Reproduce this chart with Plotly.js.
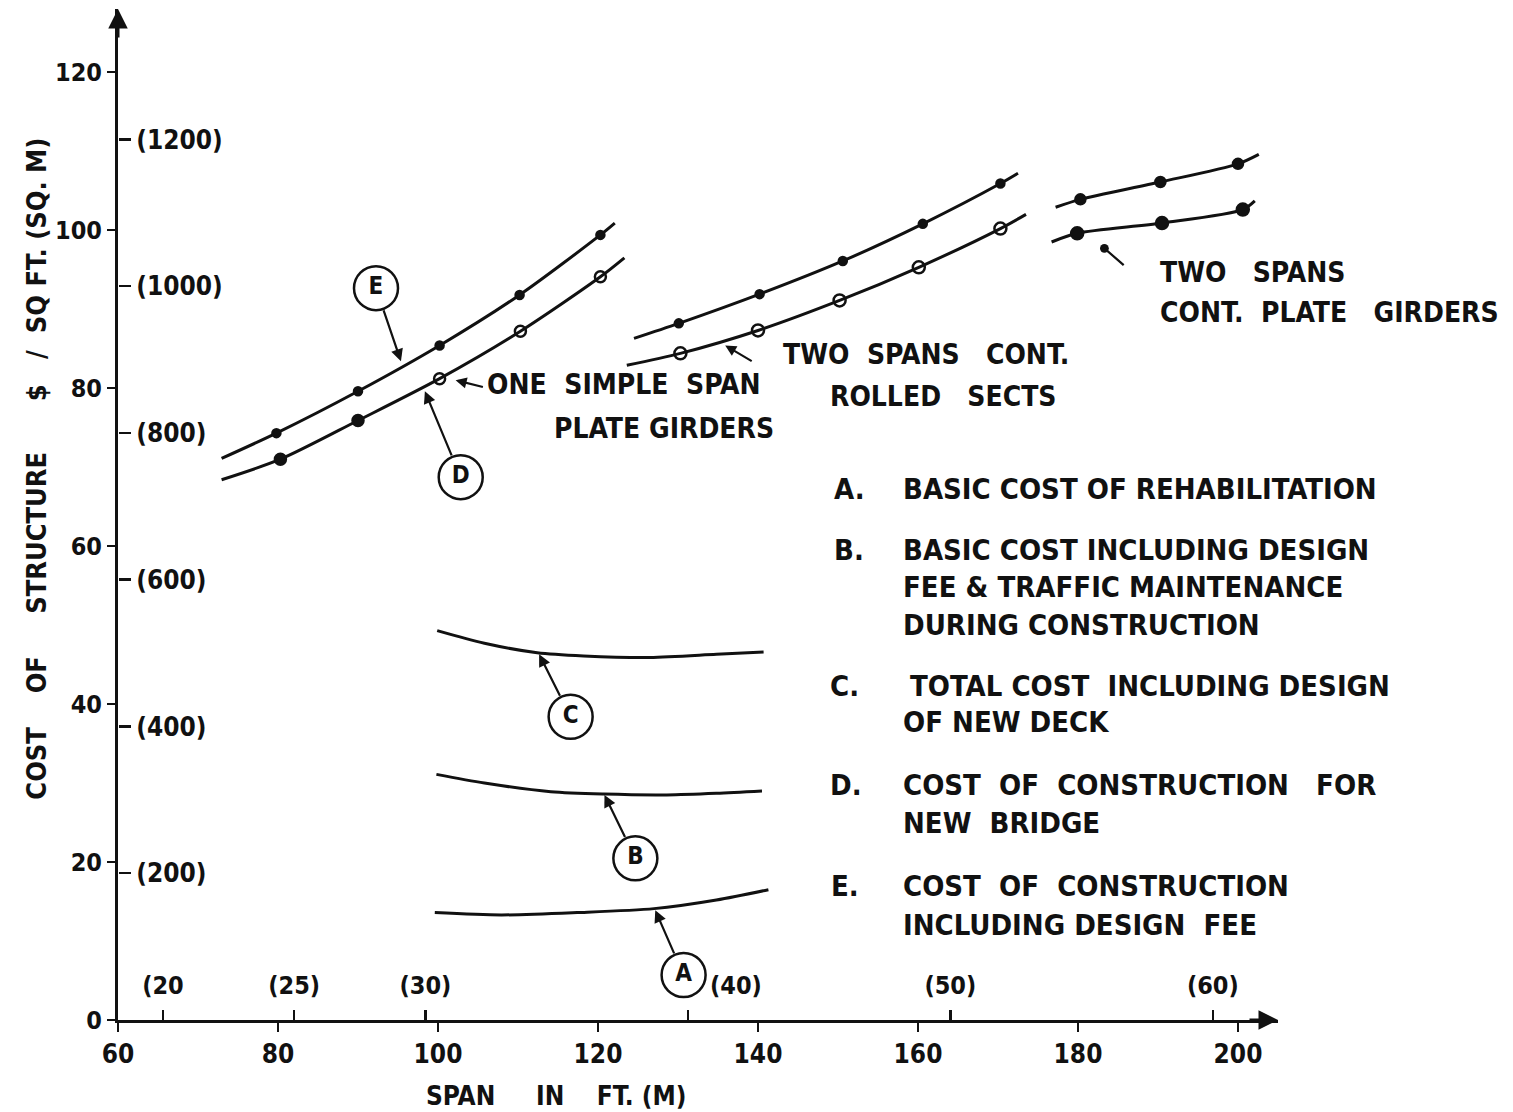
<!DOCTYPE html>
<html>
<head>
<meta charset="utf-8">
<script src="https://cdn.plot.ly/plotly-3.0.1.min.js"></script>
<style>
  html, body { margin: 0; padding: 0; background: #fff; }
  #chart { width: 1513px; height: 1112px; }
</style>
</head>
<body>
<div id="chart"></div>
<script>
// Span in ft, cost in $ per sq ft.  Each curve lists its two free ends
// plus the plotted points in between.

// One simple span, plate girders
const simpleE_x = [72.95, 79.8, 90.0, 100.2, 110.2, 120.3, 122.1];
const simpleE_y = [71.1, 74.3, 79.6, 85.4, 91.8, 99.4, 100.9];
const simpleD_x = [72.95, 80.3, 90.0, 100.2, 110.3, 120.3, 123.3];
const simpleD_y = [68.4, 71.0, 75.9, 81.2, 87.2, 94.1, 96.5];

// Two spans continuous, rolled sections
const rolledE_x = [124.5, 130.1, 140.2, 150.6, 160.6, 170.3, 172.5];
const rolledE_y = [86.3, 88.2, 91.9, 96.1, 100.8, 105.9, 107.2];
const rolledD_x = [123.6, 130.3, 140.0, 150.2, 160.1, 170.3, 173.5];
const rolledD_y = [82.9, 84.4, 87.3, 91.1, 95.3, 100.2, 102.0];

// Two spans continuous, plate girders
const plateE_x = [177.2, 180.3, 190.3, 200.0, 202.6];
const plateE_y = [102.9, 103.9, 106.1, 108.4, 109.6];
const plateD_x = [176.7, 179.9, 190.5, 200.6, 202.1];
const plateD_y = [98.5, 99.6, 100.9, 102.6, 103.7];

// Rehabilitation curves A, B, C
const curveC_x = [99.9, 105.8, 112.4, 118.2, 126.5, 134.8, 140.7];
const curveC_y = [49.3, 47.7, 46.5, 46.1, 45.9, 46.3, 46.6];
const curveB_x = [99.8, 105.8, 114.1, 120.7, 128.6, 134.8, 140.5];
const curveB_y = [31.1, 30.0, 28.9, 28.6, 28.5, 28.7, 29.0];
const curveA_x = [99.6, 107.9, 117.4, 127.0, 134.8, 141.3];
const curveA_y = [13.6, 13.3, 13.6, 14.1, 15.2, 16.5];

// Circled curve keys and where their leaders touch the curves
const keyLetters = ['E', 'D', 'C', 'B', 'A'];
const keyX = [92.25, 102.84, 116.58, 124.67, 130.7];
const keyY = [92.66, 68.73, 38.39, 20.47, 5.7];
const keyTipX = [95.37, 98.36, 112.64, 120.81, 127.16];
const keyTipY = [83.4, 79.6, 46.3, 28.5, 13.9];

// Axis ticks
const ftTicks = [60, 80, 100, 120, 140, 160, 180, 200];
const costTicks = [0, 20, 40, 60, 80, 100, 120];
const metreTicks = [20, 25, 30, 40, 50, 60];
const metreLabels = ['(20', '(25)', '(30)', '(40)', '(50)', '(60)'];
const sqmTicks = [200, 400, 600, 800, 1000, 1200];
const sqmLabels = ['(200)', '(400)', '(600)', '(800)', '(1000)', '(1200)'];
const FT_PER_M = 3.28084;
const SQFT_PER_SQM = 10.7639;
// the (40) label is lettered to the right of its tick, clear of key A
const shiftedMetreTick = 40;

// Structure-type labels and their pointers
const typeLabels = [
  { lines: ['ONE\u00a0\u00a0SIMPLE\u00a0\u00a0SPAN', 'PLATE GIRDERS'],
    x: [105.9, 114.3], y: [80.4, 74.9], tip: [102.2, 81.0], tail: [105.8, 80.1], head: 2 },
  { lines: ['TWO\u00a0\u00a0SPANS\u00a0\u00a0\u00a0CONT.', 'ROLLED\u00a0\u00a0\u00a0SECTS'],
    x: [142.9, 148.7], y: [84.2, 78.9], tip: [135.9, 85.4], tail: [139.4, 83.3], head: 2 },
  { lines: ['TWO\u00a0\u00a0\u00a0SPANS', 'CONT.\u00a0\u00a0PLATE\u00a0\u00a0\u00a0GIRDERS'],
    x: [190.0, 190.0], y: [94.6, 89.6], tip: [183.3, 97.7], tail: [185.9, 95.4], head: 6 }
];

// Key to the curves
const legendKeys = ['A.', 'B.', 'C.', 'D.', 'E.'];
const legendLines = [
  ['BASIC COST OF REHABILITATION'],
  ['BASIC COST INCLUDING DESIGN', 'FEE & TRAFFIC MAINTENANCE', 'DURING CONSTRUCTION'],
  ['TOTAL\u00a0COST\u00a0\u00a0INCLUDING\u00a0DESIGN', 'OF NEW DECK'],
  ['COST\u00a0\u00a0OF\u00a0\u00a0CONSTRUCTION\u00a0\u00a0\u00a0FOR', 'NEW\u00a0\u00a0BRIDGE'],
  ['COST\u00a0\u00a0OF\u00a0\u00a0CONSTRUCTION', 'INCLUDING DESIGN\u00a0\u00a0FEE']
];
const legendKeyX = [149.2, 149.3, 148.8, 148.8, 148.9];
const legendTextX = [[157.9], [157.9, 157.9, 157.9], [158.8, 157.9], [157.9, 157.9], [157.9, 157.9]];
const legendY = [[67.2], [59.5, 54.8, 50.0], [42.3, 37.7], [29.8, 24.9], [17.0, 12.0]];

const INK = '#111';
const FONT = "'DejaVu Sans Condensed', 'Liberation Sans Narrow', 'DejaVu Sans', sans-serif";

function line(xs, ys) {
  return { x: xs, y: ys, mode: 'lines', type: 'scatter', hoverinfo: 'skip',
    line: { color: INK, width: 3, shape: 'spline', smoothing: 0.8 } };
}
function points(xs, ys, sym, size) {
  return { x: xs.slice(1, -1), y: ys.slice(1, -1), mode: 'markers', type: 'scatter', hoverinfo: 'skip',
    marker: { color: INK, symbol: sym, size: size, line: { color: INK, width: 2.5 } } };
}

const traces = [
  line(simpleE_x, simpleE_y), points(simpleE_x, simpleE_y, 'circle', 8),
  line(simpleD_x, simpleD_y),
  points(simpleD_x, simpleD_y, ['circle', 'circle', 'circle-open', 'circle-open', 'circle-open'], 11),
  line(rolledE_x, rolledE_y), points(rolledE_x, rolledE_y, 'circle', 8),
  line(rolledD_x, rolledD_y), points(rolledD_x, rolledD_y, 'circle-open', 12),
  line(plateE_x, plateE_y), points(plateE_x, plateE_y, 'circle', 10),
  line(plateD_x, plateD_y), points(plateD_x, plateD_y, 'circle', 12),
  line(curveC_x, curveC_y),
  line(curveB_x, curveB_y),
  line(curveA_x, curveA_y),
  {
    x: keyX, y: keyY, text: keyLetters, mode: 'markers+text', type: 'scatter', hoverinfo: 'skip',
    textposition: 'middle center',
    textfont: { family: FONT, size: 24, color: INK, weight: 'bold' },
    marker: { symbol: 'circle-open', size: 44, color: INK, line: { color: INK, width: 2.5 } }
  }
];

const annotations = [];
const txt = size => ({ family: FONT, size: size, color: INK, weight: 'bold' });

// leaders from the circled keys to their curves
keyLetters.forEach((k, i) => {
  annotations.push({
    x: keyTipX[i], y: keyTipY[i], ax: keyX[i], ay: keyY[i], axref: 'x', ayref: 'y',
    xref: 'x', yref: 'y', text: '', showarrow: true, arrowhead: 2, arrowsize: 1.1,
    arrowwidth: 2.2, arrowcolor: INK, startstandoff: 22, standoff: 0
  });
});

// structure-type labels
typeLabels.forEach(t => {
  t.lines.forEach((s, j) => {
    annotations.push({ x: t.x[j], y: t.y[j], xref: 'x', yref: 'y', text: s, showarrow: false,
      xanchor: 'left', yanchor: 'middle', font: txt(28) });
  });
  annotations.push({ x: t.tip[0], y: t.tip[1], ax: t.tail[0], ay: t.tail[1], axref: 'x', ayref: 'y',
    xref: 'x', yref: 'y', text: '', showarrow: true, arrowhead: t.head, arrowsize: 1,
    arrowwidth: 2.2, arrowcolor: INK, standoff: 0 });
});

// key text
legendKeys.forEach((k, i) => {
  annotations.push({ x: legendKeyX[i], y: legendY[i][0], xref: 'x', yref: 'y', text: k,
    showarrow: false, xanchor: 'left', yanchor: 'middle', font: txt(29) });
  legendLines[i].forEach((s, j) => {
    annotations.push({ x: legendTextX[i][j], y: legendY[i][j], xref: 'x', yref: 'y', text: s,
      showarrow: false, xanchor: 'left', yanchor: 'middle', font: txt(29) });
  });
});

// (40) metre label, lettered just right of its tick
const iShift = metreTicks.indexOf(shiftedMetreTick);
annotations.push({ x: shiftedMetreTick * FT_PER_M, y: 0, xref: 'x', yref: 'y',
  text: metreLabels[iShift], showarrow: false, xanchor: 'left', yanchor: 'bottom',
  xshift: 20, yshift: 18, font: txt(25) });

// arrowheads on the axes
annotations.push({ x: 205, y: 0, ax: -30, ay: 0, xref: 'x', yref: 'y', text: '', showarrow: true,
  arrowhead: 2, arrowsize: 1.3, arrowwidth: 3, arrowcolor: INK, standoff: 0 });
annotations.push({ x: 60, y: 128, ax: 0, ay: 30, xref: 'x', yref: 'y', text: '', showarrow: true,
  arrowhead: 2, arrowsize: 1.3, arrowwidth: 3, arrowcolor: INK, standoff: 0 });

// axis titles
annotations.push({ x: 0.378, y: -0.075, xref: 'paper', yref: 'paper', showarrow: false,
  text: 'SPAN\u00a0\u00a0\u00a0\u00a0\u00a0IN\u00a0\u00a0\u00a0\u00a0FT.\u00a0(M)', font: txt(26), xanchor: 'center', yanchor: 'middle' });
annotations.push({ x: -0.071, y: 0.545, xref: 'paper', yref: 'paper', showarrow: false, textangle: -90,
  text: 'COST\u00a0\u00a0\u00a0\u00a0OF\u00a0\u00a0\u00a0\u00a0\u00a0STRUCTURE\u00a0\u00a0\u00a0\u00a0\u00a0\u00a0$\u00a0\u00a0\u00a0/\u00a0\u00a0SQ\u00a0FT.\u00a0(SQ.\u00a0M)',
  font: txt(27), xanchor: 'center', yanchor: 'middle' });

const layout = {
  width: 1513, height: 1112,
  margin: { l: 118, r: 235, t: 9, b: 92 },
  paper_bgcolor: '#fff', plot_bgcolor: '#fff',
  showlegend: false,
  font: { family: FONT, color: INK, weight: 'bold' },
  xaxis: {
    range: [60, 205], showgrid: false, zeroline: false,
    showline: true, linecolor: INK, linewidth: 3,
    tickmode: 'array', tickvals: ftTicks, ticks: 'outside', ticklen: 9, tickwidth: 2.5, tickcolor: INK,
    tickfont: { family: FONT, size: 26, color: INK, weight: 'bold' }
  },
  xaxis2: {
    overlaying: 'x', side: 'top', anchor: 'free', position: 0,
    range: [60 / FT_PER_M, 205 / FT_PER_M], showgrid: false, zeroline: false, showline: false,
    tickmode: 'array', tickvals: metreTicks,
    ticktext: metreLabels.map(s => (s === metreLabels[iShift] ? '' : s)),
    ticks: 'outside', ticklen: 10, tickwidth: 2.5, tickcolor: INK, ticklabelstandoff: 6,
    tickfont: { family: FONT, size: 25, color: INK, weight: 'bold' }
  },
  yaxis: {
    range: [0, 128], showgrid: false, zeroline: false,
    showline: true, linecolor: INK, linewidth: 3,
    tickmode: 'array', tickvals: costTicks, ticks: 'outside', ticklen: 8, tickwidth: 2.5, tickcolor: INK,
    tickfont: { family: FONT, size: 25, color: INK, weight: 'bold' }
  },
  yaxis2: {
    overlaying: 'y', side: 'right', anchor: 'free', position: 0,
    range: [0, 128 * SQFT_PER_SQM], showgrid: false, zeroline: false, showline: false,
    tickmode: 'array', tickvals: sqmTicks, ticktext: sqmLabels,
    ticks: 'outside', ticklen: 12, tickwidth: 2.5, tickcolor: INK,
    tickfont: { family: FONT, size: 26, color: INK, weight: 'bold' }
  },
  annotations: annotations
};

// invisible traces so the secondary axes are drawn
traces.push({ x: [metreTicks[0]], y: [0], xaxis: 'x2', yaxis: 'y', mode: 'markers',
  marker: { opacity: 0 }, hoverinfo: 'skip', type: 'scatter' });
traces.push({ x: [60], y: [sqmTicks[0]], xaxis: 'x', yaxis: 'y2', mode: 'markers',
  marker: { opacity: 0 }, hoverinfo: 'skip', type: 'scatter' });

Plotly.newPlot('chart', traces, layout, { staticPlot: true });
</script>
</body>
</html>
